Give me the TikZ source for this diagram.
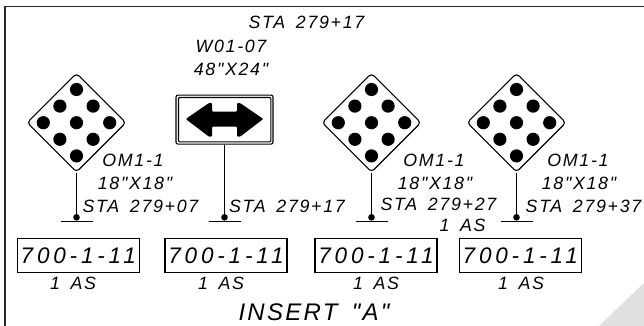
\documentclass[tikz,border=0pt]{standalone}
\usepackage{fontspec}
\usetikzlibrary{calc,positioning,shapes.geometric}
\newfontfamily\signfont{Liberation Sans}[LetterSpace=9.5,WordSpace=1.6]
\newfontfamily\codefont{Liberation Sans}[LetterSpace=17]
\tikzset{
	omdiamond/.style={draw, line width=1.1pt, shape=diamond, aspect=1, rounded corners=3.5pt, inner sep=0pt, minimum width=99, minimum height=99},
	omdot/.style={fill=black},
	post/.style={line width=1.1pt},
	basedot/.style={circle, fill=black, inner sep=0pt, minimum size=6.6},
	codebox/.style={draw, line width=1.1pt, minimum width=122, minimum height=33.4, inner sep=0pt, font=\codefont\itshape\fontsize{22.5}{22.5}\selectfont},
	lbl/.style={inner sep=0pt, font=\signfont\itshape\fontsize{17.8}{17.8}\selectfont}
}
\def\ommarker(#1)(#2,#3){
	\node[omdiamond] (#1) at (#2,#3) {};
	\fill[omdot] (#2,#3) circle (6.6);
	\fill[omdot] (#2-33.2,#3) circle (6.6);
	\fill[omdot] (#2+33.2,#3) circle (6.6);
	\fill[omdot] (#2,#3-33.2) circle (6.6);
	\fill[omdot] (#2,#3+33.2) circle (6.6);
	\fill[omdot] (#2-16.6,#3-16.6) circle (6.6);
	\fill[omdot] (#2+16.6,#3-16.6) circle (6.6);
	\fill[omdot] (#2-16.6,#3+16.6) circle (6.6);
	\fill[omdot] (#2+16.6,#3+16.6) circle (6.6);
}
\def\basepost(#1)(#2)(#3,#4){
	\node[basedot] (#1) at (#3,#4) {};
	\draw[post] (#2) -- (#1);
	\draw[post] (#3-16,#4+4) -- (#3+16,#4+4);
}

\begin{document}
\begin{tikzpicture}[x=1pt,y=-1pt]
		\useasboundingbox (0,0) rectangle (644,326);
		%%%%% FRAME %%%%%
		\fill[black!12] (599,326) -- (644,283) -- (644,326) -- cycle;
		\draw[line width=1.3pt, black!85] (5,326) -- (5,6.5) -- (644,6.5);
		
		%%%%% SIGNS %%%%%
		\ommarker(omA)(76.5,122.7)
		\ommarker(omC)(371.5,122.7)
		\ommarker(omD)(516.5,122.7)
		
		\node[draw, line width=1.1pt, rounded corners=2pt, minimum width=97, minimum height=49, inner sep=0pt] (plate) at (224.5,119.6) {};
		\draw[line width=1.1pt, rounded corners=1pt] (178.5,97.5) rectangle (270.8,141.8);
		\fill[rounded corners=1pt] (185.7,119) -- (209,103) -- (212,103) -- (212,111.7) -- (237,111.7) -- (237,103) -- (240,103) -- (263.3,119) -- (240,136.7) -- (237,136.7) -- (237,126.7) -- (212,126.7) -- (212,136.7) -- (209,136.7) -- cycle;
		
		\basepost(baseA)(omA.south)(76.5,217.3)
		\basepost(baseB)(plate.south)(224.5,217.3)
		\basepost(baseC)(omC.south)(371.5,217.3)
		\basepost(baseD)(omD.south)(516.5,217.3)
		
		%%%%% BOXES %%%%%
		\node[codebox] (boxA) at (78.3,255.4) {700-1-11};
		\node[codebox] (boxB) at (226,255.4) {700-1-11};
		\node[codebox] (boxC) at (376,255.4) {700-1-11};
		\node[codebox] (boxD) at (520.3,255.4) {700-1-11};
		
		%%%%% LABELS %%%%%
		\node[lbl] (staT) at (306.5,22.7) {STA 279+17};
		\node[lbl] (wcode) at (231,46.7) {W01-07};
		\node[lbl] (wsize) at (231,69) {48"X24"};
		
		\node[lbl] (codeA) at (133,160) {OM1-1};
		\node[lbl] (sizeA) at (135,183) {18"X18"};
		\node[lbl] (staA) at (140.5,206) {STA 279+07};
		\node[lbl] (staB) at (287,206) {STA 279+17};
		\node[lbl] (codeC) at (434,160) {OM1-1};
		\node[lbl] (sizeC) at (435,183) {18"X18"};
		\node[lbl] (staC) at (438.5,204) {STA 279+27};
		\node[lbl] (qtyX) at (462.5,225) {1 AS};
		\node[lbl] (codeD) at (578,160) {OM1-1};
		\node[lbl] (sizeD) at (579,183) {18"X18"};
		\node[lbl] (staD) at (583.5,206) {STA 279+37};
		
		\node[lbl] (qtyA) at (73,283) {1 AS};
		\node[lbl] (qtyB) at (221,283) {1 AS};
		\node[lbl] (qtyC) at (376,283) {1 AS};
		\node[lbl] (qtyD) at (521,283) {1 AS};
		
		\node[inner sep=0pt, font=\signfont\itshape\fontsize{24}{24}\selectfont] (title) at (314,312) {INSERT "A"};
	\end{tikzpicture}
\end{document}
